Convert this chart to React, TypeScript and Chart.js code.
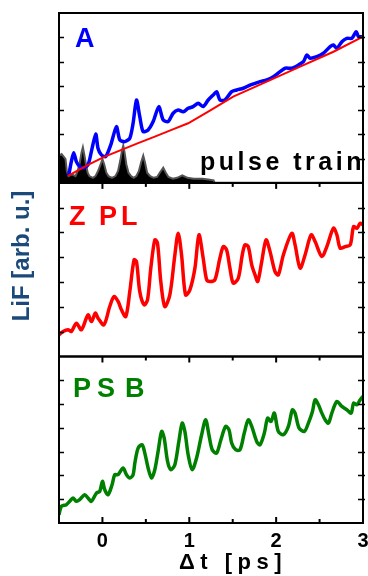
import { useEffect, useRef } from "react";
import { Chart, registerables } from "chart.js";

Chart.register(...registerables);

// x axis (ps)
const X_MIN = -0.5;
const X_MAX = 3;
const xMajorTicks = [0, 1, 2, 3];
const xMinorTicks = [0.5, 1.5, 2.5];
const xTickLabels = ["0", "1", "2", "3"];
const yTickCount = 7; // intervals per panel

// Panel A: LiF signal (blue)
const aT = [-0.389, -0.358, -0.331, -0.3, -0.262, -0.216, -0.166, -0.123, -0.077, -0.051, -0.012, 0.038, 0.096, 0.161, 0.2, 0.257, 0.315, 0.353, 0.392, 0.43, 0.468, 0.526, 0.584, 0.649, 0.699, 0.757, 0.814, 0.872, 0.93, 0.987, 1.045, 1.103, 1.16, 1.218, 1.276, 1.315, 1.353, 1.411, 1.488, 1.546, 1.622, 1.699, 1.757, 1.814, 1.892, 1.968, 2.045, 2.103, 2.18, 2.256, 2.314, 2.353, 2.391, 2.468, 2.544, 2.622, 2.66, 2.699, 2.757, 2.814, 2.872, 2.922, 2.948, 3.0];
const aV = [4.1, 12.5, 17.8, 12.5, 9.6, 8.8, 10.6, 19.4, 28.8, 20.4, 16.5, 15.5, 22.4, 33.1, 25.3, 24.3, 26.3, 35.1, 48.8, 39.0, 30.2, 31.2, 36.1, 44.9, 37.1, 36.1, 41.0, 42.9, 41.9, 43.9, 44.9, 46.9, 44.9, 48.8, 51.8, 53.7, 48.8, 48.8, 53.7, 54.7, 55.7, 57.6, 58.6, 59.6, 60.6, 62.5, 65.5, 67.5, 67.5, 69.4, 71.4, 75.3, 73.4, 74.3, 76.3, 80.2, 81.2, 79.2, 83.1, 85.1, 85.1, 89.0, 86.1, 86.1];

// Panel A: fit (red)
const fitT = [-0.397, -0.166, 0.027, 0.219, 0.411, 0.603, 0.796, 0.987, 1.218, 1.506, 1.892, 2.276, 2.66, 3.0];
const fitV = [4.1, 10.6, 15.5, 19.4, 23.4, 27.2, 31.2, 35.1, 41.9, 50.8, 59.6, 68.4, 77.2, 86.1];

// Panel A: pulse train (black fill)
const pulseT = [-0.5, -0.47, -0.44, -0.425, -0.41, -0.39, -0.35, -0.31, -0.285, -0.26, -0.24, -0.225, -0.21, -0.19, -0.17, -0.15, -0.11, -0.08, -0.05, -0.02, 0.0, 0.02, 0.045, 0.07, 0.11, 0.15, 0.18, 0.205, 0.225, 0.24, 0.255, 0.275, 0.3, 0.33, 0.36, 0.39, 0.42, 0.445, 0.47, 0.49, 0.515, 0.55, 0.59, 0.63, 0.66, 0.7, 0.73, 0.76, 0.81, 0.86, 0.92, 0.98, 1.05, 1.15, 1.22, 1.28, 1.29];
const pulseV = [16, 17, 15, 14, 7, 4, 5, 4, 7, 12, 18, 21, 17, 11, 6, 4, 3, 4, 7, 11, 14, 11, 6, 4, 3, 4, 7, 13, 19, 22, 18, 11, 6, 4, 3, 4, 7, 12, 16, 12, 6, 4, 3, 3.5, 6, 9, 6, 3.5, 2.5, 3, 4.5, 3, 2.5, 2.5, 2, 1.5, 0];

// Panel ZPL (red)
const zplT = [-0.5, -0.454, -0.397, -0.358, -0.3, -0.242, -0.166, -0.127, -0.081, -0.051, 0.018, 0.084, 0.134, 0.18, 0.219, 0.269, 0.315, 0.364, 0.392, 0.43, 0.48, 0.519, 0.557, 0.603, 0.634, 0.672, 0.718, 0.776, 0.834, 0.872, 0.911, 0.957, 1.007, 1.065, 1.111, 1.16, 1.2, 1.238, 1.295, 1.352, 1.391, 1.43, 1.468, 1.506, 1.564, 1.61, 1.641, 1.679, 1.719, 1.757, 1.788, 1.834, 1.884, 1.93, 1.987, 2.025, 2.083, 2.18, 2.218, 2.276, 2.333, 2.403, 2.449, 2.526, 2.584, 2.66, 2.699, 2.737, 2.795, 2.853, 2.891, 2.93, 2.968, 3.0];
const zplV = [12.5, 14.4, 15.4, 14.4, 19.2, 15.4, 24.0, 20.1, 25.0, 22.1, 18.3, 28.8, 34.5, 31.7, 26.9, 23.0, 37.4, 55.7, 54.7, 37.4, 29.8, 32.6, 50.9, 67.2, 65.3, 43.2, 28.8, 35.5, 58.5, 71.0, 58.5, 35.5, 38.4, 50.9, 70.1, 56.6, 44.2, 43.2, 44.2, 56.6, 63.3, 61.4, 50.9, 42.3, 45.1, 58.5, 64.3, 63.3, 52.8, 47.0, 43.2, 54.7, 67.2, 60.4, 48.9, 47.0, 58.5, 71.0, 64.3, 50.9, 58.5, 70.1, 66.2, 57.6, 63.3, 73.9, 70.1, 62.4, 63.3, 64.3, 74.8, 73.9, 76.8, 75.8];

// Panel PSB (green)
const psbT = [-0.5, -0.473, -0.415, -0.377, -0.339, -0.3, -0.262, -0.204, -0.166, -0.127, -0.069, -0.031, 0.0, 0.027, 0.065, 0.111, 0.142, 0.18, 0.238, 0.277, 0.315, 0.353, 0.373, 0.411, 0.457, 0.488, 0.526, 0.565, 0.603, 0.641, 0.681, 0.711, 0.75, 0.788, 0.834, 0.88, 0.918, 0.949, 0.987, 1.033, 1.084, 1.142, 1.188, 1.226, 1.264, 1.315, 1.364, 1.419, 1.457, 1.488, 1.534, 1.584, 1.633, 1.679, 1.719, 1.776, 1.814, 1.864, 1.902, 1.941, 1.979, 2.025, 2.083, 2.141, 2.187, 2.218, 2.264, 2.325, 2.371, 2.418, 2.449, 2.487, 2.526, 2.564, 2.602, 2.641, 2.699, 2.757, 2.814, 2.864, 2.891, 2.93, 2.968, 3.0];
const psbV = [5, 10, 11, 13, 15, 13, 14, 17, 15, 13, 18, 19, 25, 20, 17, 23, 29, 29, 33, 29, 27, 29, 36, 45, 47, 42, 33, 27, 32, 43, 55, 51, 37, 32, 35, 49, 60, 55, 41, 32, 39, 53, 62, 53, 44, 42, 50, 58, 56, 48, 44, 44, 54, 62, 58, 49, 47, 54, 63, 61, 66, 55, 53, 58, 68, 66, 57, 55, 60, 67, 74, 71, 66, 62, 60, 66, 73, 70, 68, 66, 72, 71, 74, 76];

const xTitle = "Δt [ps]";
const yTitle = "LiF [arb. u.]";
const pulseLabel = "pulse train";

const BLUE = "#0000ff";
const RED = "#ff0000";
const GREEN = "#008000";
const LABEL_BLUE = "#1b4a7a";
const FONT = '"Liberation Sans", Arial, sans-serif';

function zip(t: number[], v: number[]) {
  const n = Math.min(t.length, v.length);
  const out: { x: number; y: number }[] = [];
  for (let i = 0; i < n; i++) out.push({ x: t[i], y: v[i] });
  return out;
}

function drawSpaced(ctx: CanvasRenderingContext2D, text: string, x: number, y: number, spacing: number) {
  let cx = x;
  for (const ch of text) {
    ctx.fillText(ch, cx, y);
    cx += ctx.measureText(ch).width + spacing;
  }
}

const decorPlugin = {
  id: "decor",
  afterDraw(chart: any) {
    const ctx: CanvasRenderingContext2D = chart.ctx;
    const xs = chart.scales.x;
    const panels = [chart.scales.yA, chart.scales.yZ, chart.scales.yP];
    const L = chart.chartArea.left;
    const R = chart.chartArea.right;
    ctx.save();
    ctx.strokeStyle = "#000";
    ctx.lineWidth = 2;
    panels.forEach((p) => {
      ctx.strokeRect(L, p.top, R - L, p.bottom - p.top);
    });
    ctx.lineWidth = 1.5;
    panels.forEach((p) => {
      for (let k = 1; k < yTickCount; k++) {
        const y = Math.round(p.getPixelForValue((k * 100) / yTickCount)) + 0.5;
        ctx.beginPath();
        ctx.moveTo(L, y);
        ctx.lineTo(L + 5, y);
        ctx.moveTo(R - 5, y);
        ctx.lineTo(R + 2, y);
        ctx.stroke();
      }
    });
    ctx.lineWidth = 2;
    const drawXTicks = (yBase: number, dir: number) => {
      xMajorTicks.forEach((v) => {
        const x = xs.getPixelForValue(v);
        ctx.beginPath();
        ctx.moveTo(x, yBase);
        ctx.lineTo(x, yBase + dir * 6);
        ctx.stroke();
      });
      xMinorTicks.forEach((v) => {
        const x = xs.getPixelForValue(v);
        ctx.beginPath();
        ctx.moveTo(x, yBase);
        ctx.lineTo(x, yBase + dir * 4);
        ctx.stroke();
      });
    };
    drawXTicks(panels[1].top, 1);
    drawXTicks(panels[2].top, 1);
    drawXTicks(panels[2].bottom, -1);

    ctx.fillStyle = "#000";
    ctx.font = `bold 20px ${FONT}`;
    ctx.textAlign = "center";
    ctx.textBaseline = "alphabetic";
    xMajorTicks.forEach((v, i) => {
      ctx.fillText(xTickLabels[i], xs.getPixelForValue(v), panels[2].bottom + 24);
    });
    ctx.textAlign = "left";
    ctx.font = `bold 22px ${FONT}`;
    drawSpaced(ctx, xTitle, 179, panels[2].bottom + 46, 5.5);

    ctx.save();
    ctx.fillStyle = LABEL_BLUE;
    ctx.font = `bold 24px ${FONT}`;
    ctx.textAlign = "center";
    ctx.translate(29, 256);
    ctx.rotate(-Math.PI / 2);
    ctx.fillText(yTitle, 0, 0);
    ctx.restore();

    ctx.textAlign = "left";
    ctx.font = `bold 27px ${FONT}`;
    ctx.fillStyle = BLUE;
    ctx.fillText("A", 75, panels[0].top + 34);
    ctx.fillStyle = RED;
    const zy = panels[1].top + 42;
    ctx.fillText("Z", 69, zy);
    ctx.fillText("P", 99, zy);
    ctx.fillText("L", 121, zy);
    ctx.fillStyle = GREEN;
    const py = panels[2].top + 41;
    ctx.fillText("P", 73, py);
    ctx.fillText("S", 97, py);
    ctx.fillText("B", 125, py);

    ctx.fillStyle = "#000";
    ctx.font = `bold 25px ${FONT}`;
    drawSpaced(ctx, pulseLabel, 200, panels[0].bottom - 13, 3.5);
    ctx.restore();
  },
};

const hiddenAxis = {
  ticks: { display: false },
  grid: { display: false, drawTicks: false, tickLength: 0 },
  border: { display: false },
};

export default function App() {
  const ref = useRef<HTMLCanvasElement | null>(null);
  useEffect(() => {
    if (!ref.current) return;
    const chart = new Chart(ref.current, {
      type: "line",
      data: {
        datasets: [
          {
            data: zip(fitT, fitV),
            yAxisID: "yA",
            borderColor: RED,
            borderWidth: 2,
            pointRadius: 0,
            fill: false,
            order: 0,
          },
          {
            data: zip(aT, aV),
            yAxisID: "yA",
            borderColor: BLUE,
            borderWidth: 3.5,
            pointRadius: 0,
            tension: 0.25,
            fill: false,
            order: 1,
          },
          {
            data: zip(pulseT, pulseV),
            yAxisID: "yA",
            borderColor: "#555555",
            backgroundColor: "#000000",
            borderWidth: 2,
            pointRadius: 0,
            fill: "start",
            order: 2,
          },
          {
            data: zip(zplT, zplV),
            yAxisID: "yZ",
            borderColor: RED,
            borderWidth: 3.5,
            pointRadius: 0,
            tension: 0.3,
            fill: false,
          },
          {
            data: zip(psbT, psbV),
            yAxisID: "yP",
            borderColor: GREEN,
            borderWidth: 3.5,
            pointRadius: 0,
            tension: 0.3,
            fill: false,
          },
        ],
      },
      options: {
        animation: false,
        responsive: false,
        maintainAspectRatio: false,
        events: [],
        layout: { padding: { left: 59, right: 5, top: 13, bottom: 53 } },
        plugins: {
          legend: { display: false },
          tooltip: { enabled: false },
          title: { display: false },
        },
        scales: {
          x: { type: "linear", min: X_MIN, max: X_MAX, ...hiddenAxis },
          yP: { type: "linear", position: "left", stack: "panels", stackWeight: 166.6, weight: 1, min: 0, max: 100, ...hiddenAxis },
          yZ: { type: "linear", position: "left", stack: "panels", stackWeight: 173.7, weight: 2, min: 0, max: 100, ...hiddenAxis },
          yA: { type: "linear", position: "left", stack: "panels", stackWeight: 170, weight: 3, min: 0, max: 100, ...hiddenAxis },
        },
      } as any,
      plugins: [decorPlugin],
    });
    return () => chart.destroy();
  }, []);

  return (
    <div style={{ position: "absolute", left: 0, top: 0, width: 368, height: 576, background: "#fff" }}>
      <canvas ref={ref} width={368} height={576} style={{ display: "block" }} />
    </div>
  );
}
